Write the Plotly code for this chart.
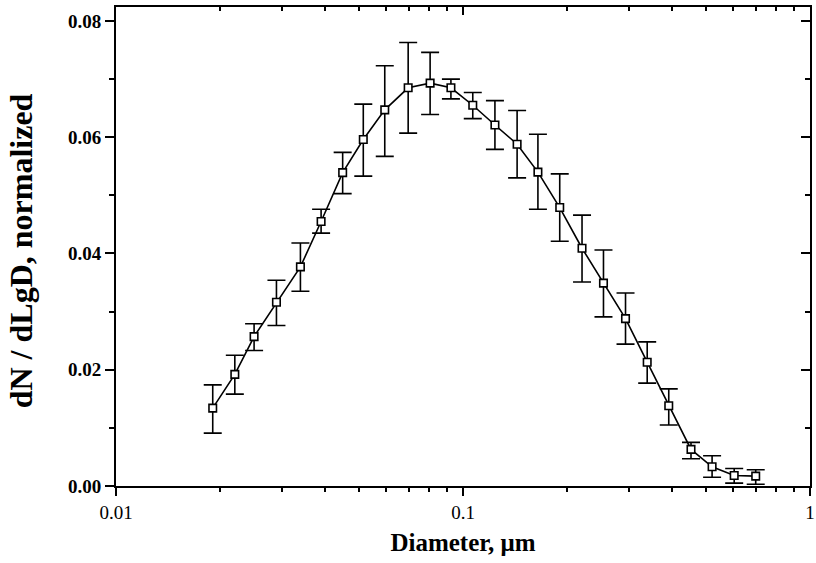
import plotly.graph_objects as go

# Data
diameter_um = [0.019, 0.022, 0.025, 0.029, 0.034, 0.039, 0.045, 0.0516, 0.0595, 0.0695,
               0.0804, 0.0923, 0.1067, 0.1236, 0.1432, 0.1644, 0.190, 0.2203, 0.254, 0.294,
               0.3395, 0.3917, 0.454, 0.5222, 0.6047, 0.6975]
dn_dlgd = [0.0134, 0.0192, 0.0257, 0.0316, 0.0377, 0.0455, 0.0539, 0.0596, 0.0647, 0.0685,
           0.0693, 0.0685, 0.0655, 0.0621, 0.0588, 0.0540, 0.0479, 0.0409, 0.0349, 0.0288,
           0.0213, 0.0138, 0.0063, 0.0033, 0.0018, 0.0017]
err_upper = [0.0174, 0.0225, 0.0279, 0.0354, 0.0418, 0.0476, 0.0574, 0.0657, 0.0723, 0.0763,
             0.0746, 0.0700, 0.0677, 0.0663, 0.0646, 0.0605, 0.0537, 0.0466, 0.0406, 0.0332,
             0.0248, 0.0167, 0.0075, 0.0052, 0.0030, 0.0028]
err_lower = [0.0091, 0.0158, 0.0233, 0.0276, 0.0335, 0.0435, 0.0503, 0.0533, 0.0567, 0.0607,
             0.0639, 0.0666, 0.0632, 0.0579, 0.0530, 0.0476, 0.0421, 0.0351, 0.0291, 0.0244,
             0.0177, 0.0105, 0.0047, 0.0015, 0.0005, 0.0003]

y_ticks = [0.00, 0.02, 0.04, 0.06, 0.08]
y_tick_text = ["0.00", "0.02", "0.04", "0.06", "0.08"]
x_ticks = [0.01, 0.1, 1]
x_tick_text = ["0.01", "0.1", "1"]
x_minor = [m * d for d in (0.01, 0.1) for m in range(2, 10)]
y_minor = [0.01, 0.03, 0.05, 0.07]

x_title = "Diameter, μm"
y_title = "dN / dLgD, normalized"

plus = [u - v for u, v in zip(err_upper, dn_dlgd)]
minus = [v - l for v, l in zip(dn_dlgd, err_lower)]

FONT = "Liberation Serif"
X_RANGE = [-2, 0]
Y_RANGE = [0, 0.0824]

fig = go.Figure()
fig.add_trace(go.Scatter(
    x=diameter_um, y=dn_dlgd, mode="lines+markers",
    line=dict(color="black", width=1.6),
    marker=dict(symbol="square", size=7.5, color="white", line=dict(color="black", width=1.6)),
    error_y=dict(type="data", symmetric=False, array=plus, arrayminus=minus,
                 color="black", thickness=1.6, width=9),
    showlegend=False, cliponaxis=False,
))
# dummy trace for the mirrored (inside-tick) axes
fig.add_trace(go.Scatter(x=[0.5], y=[0.05], xaxis="x2", yaxis="y2", mode="markers",
                         marker=dict(opacity=0), showlegend=False, hoverinfo="skip"))

fig.update_layout(
    width=816, height=563,
    margin=dict(l=116, r=1, t=7, b=77),
    paper_bgcolor="white", plot_bgcolor="white",
    font=dict(family=FONT, color="black", size=19),
    xaxis=dict(
        type="log", range=X_RANGE, tickmode="array", tickvals=x_ticks, ticktext=x_tick_text,
        ticks="outside", ticklen=8, tickwidth=1.5, tickcolor="black",
        minor=dict(tickmode="array", tickvals=x_minor, ticks="outside", ticklen=4,
                   tickwidth=1.5, tickcolor="black"),
        showline=True, linecolor="black", linewidth=2, showgrid=False, zeroline=False,
        tickfont=dict(size=19, family=FONT), ticklabeloverflow="allow",
        title=dict(text="<b>" + x_title + "</b>", font=dict(size=25, family=FONT), standoff=12),
    ),
    yaxis=dict(
        range=Y_RANGE, tickmode="array", tickvals=y_ticks,
        ticktext=["<b>" + t + "</b>" for t in y_tick_text],
        ticks="outside", ticklen=9, tickwidth=1.5, tickcolor="black",
        minor=dict(tickmode="array", tickvals=y_minor, ticks="outside", ticklen=5,
                   tickwidth=1.5, tickcolor="black"),
        showline=True, linecolor="black", linewidth=2, showgrid=False, zeroline=False,
        tickfont=dict(size=19, family=FONT), ticklabeloverflow="allow",
    ),
    xaxis2=dict(
        type="log", range=X_RANGE, overlaying="x", side="top", anchor="y2",
        tickmode="array", tickvals=x_ticks, showticklabels=False,
        ticks="inside", ticklen=8, tickwidth=1.5, tickcolor="black",
        minor=dict(tickmode="array", tickvals=x_minor, ticks="inside", ticklen=4,
                   tickwidth=1.5, tickcolor="black"),
        showline=True, linecolor="black", linewidth=2, showgrid=False, zeroline=False,
    ),
    yaxis2=dict(
        range=Y_RANGE, overlaying="y", side="right", anchor="x2",
        tickmode="array", tickvals=y_ticks, showticklabels=False,
        ticks="inside", ticklen=9, tickwidth=1.5, tickcolor="black",
        minor=dict(tickmode="array", tickvals=y_minor, ticks="inside", ticklen=5,
                   tickwidth=1.5, tickcolor="black"),
        showline=True, linecolor="black", linewidth=2, showgrid=False, zeroline=False,
    ),
    annotations=[dict(
        text="<b>" + y_title + "</b>", textangle=-90, showarrow=False,
        xref="paper", yref="paper", x=0, y=0.49, xanchor="center", yanchor="middle",
        xshift=-95, font=dict(size=32, family=FONT, color="black"),
    )],
)

fig.write_html("out.html")
